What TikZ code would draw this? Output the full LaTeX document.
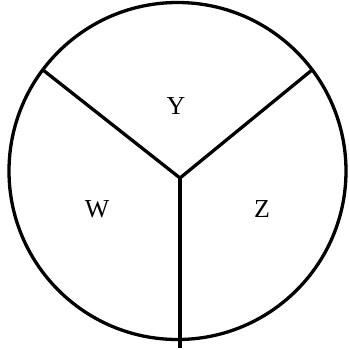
\documentclass[tikz,border=0pt]{standalone}
\usepackage{fontspec}
\setmainfont{Liberation Serif}
\begin{document}
\begin{tikzpicture}[x=1bp,y=-1bp,
  edge/.style={line width=3.3bp,line cap=butt},
  lbl/.style={font=\fontsize{26}{26}\selectfont,inner sep=0pt}]
\useasboundingbox (0,0) rectangle (349,350);
\node[draw,circle,line width=3.3bp,minimum size=337bp,inner sep=0pt] (c) at (177.5,171) {};
\coordinate (o) at (180,178);
\coordinate (a) at (43,70);
\coordinate (b) at (312,70);
\coordinate (d) at (180,348);
\draw[edge,line join=miter] (a) -- (o) -- (b);
\draw[edge] (o) -- (d);
\node[lbl] (y) at (176,106) {Y};
\node[lbl] (w) at (97,209) {W};
\node[lbl] (z) at (262,209) {Z};
\end{tikzpicture}
\end{document}
